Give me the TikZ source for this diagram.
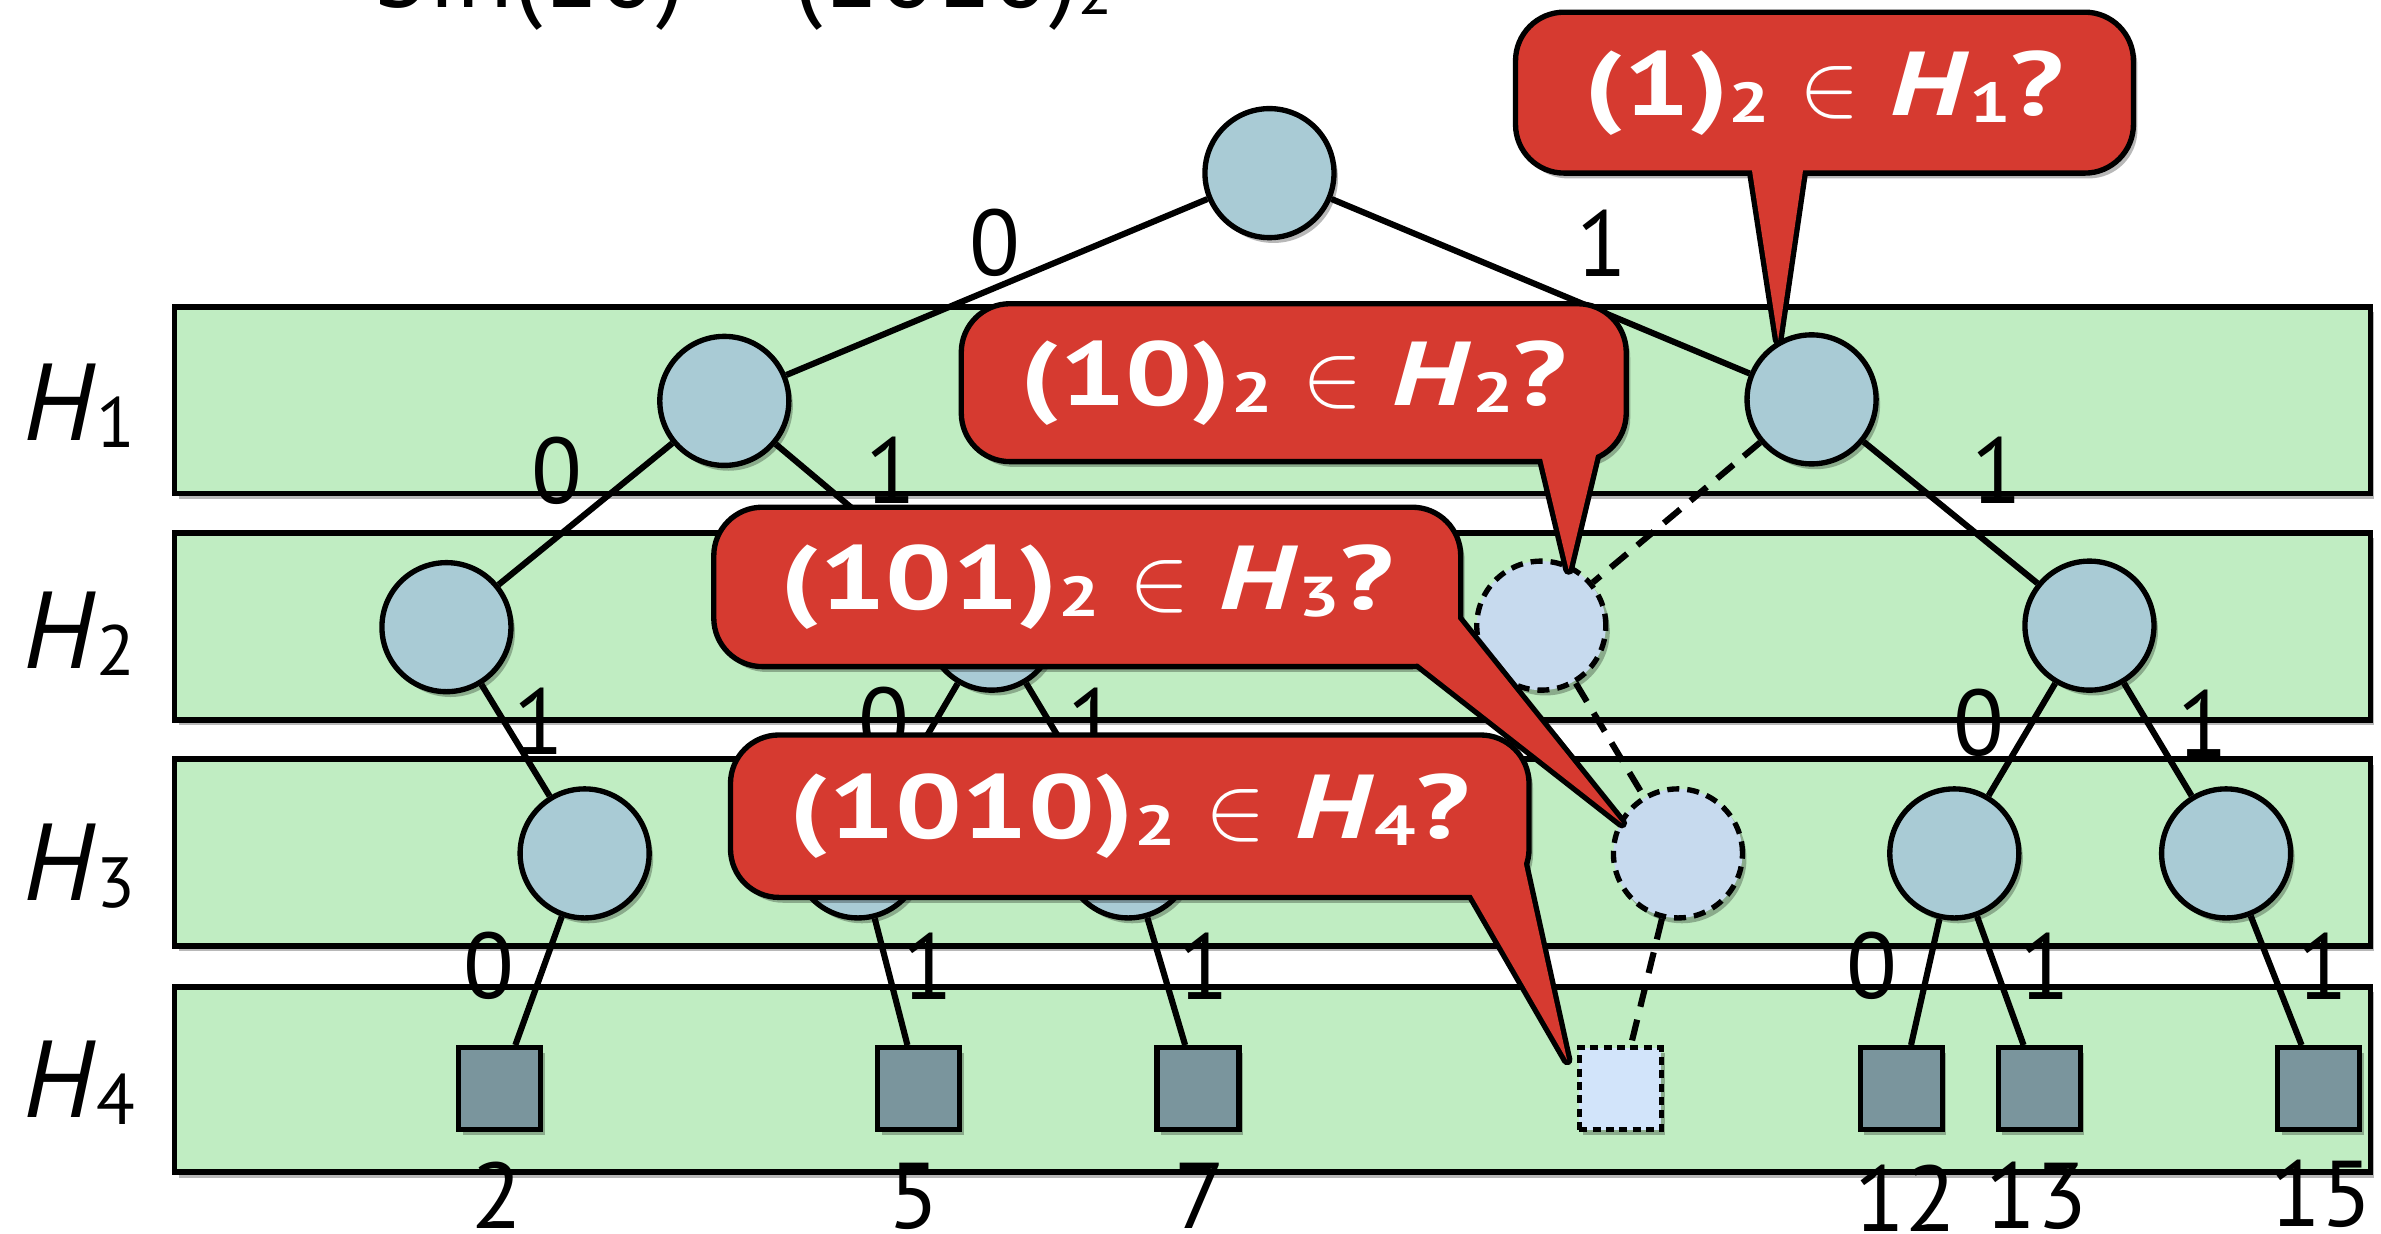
\RequirePackage{fix-cm}
\documentclass[tikz,border=0pt]{standalone}
\usepackage{fontspec}
\usepackage{graphicx}
\setmainfont{PT Sans}
\newfontfamily\askfont{PT Sans}[FakeStretch=1.3]
\usetikzlibrary{shadows}

\definecolor{bandgreen}{RGB}{192,237,194}
\definecolor{nodeblue}{RGB}{169,203,213}
\definecolor{ghostblue}{RGB}{199,218,238}
\definecolor{leafgray}{RGB}{122,149,157}
\definecolor{leafpale}{RGB}{210,228,250}
\definecolor{askred}{RGB}{214,58,48}

\newcommand{\lowsub}[2][0.6]{\raisebox{-2.7pt}{\scalebox{#1}{#2}}}

\tikzset{
  softshadow/.style={drop shadow={shadow xshift=1.5pt,shadow yshift=-2pt,opacity=0.28,fill=black}},
  band/.style={draw,line width=2.1pt,fill=bandgreen,softshadow},
  tnode/.style={circle,draw,line width=2pt,fill=nodeblue,minimum size=1.7cm,inner sep=0pt,softshadow},
  ghost/.style={tnode,fill=ghostblue,dash pattern=on 4.5pt off 3pt},
  leaf/.style={rectangle,draw,line width=2pt,fill=leafgray,minimum size=1.08cm,inner sep=0pt,softshadow},
  ghostleaf/.style={leaf,fill=leafpale,dash pattern=on 3pt off 2pt},
  tedge/.style={line width=2.3pt},
  probe/.style={line width=2.3pt,dash pattern=on 8pt off 5pt},
  bit/.style={inner sep=0pt,font=\fontsize{35}{40}\selectfont},
  num/.style={bit,anchor=base},
  lvl/.style={inner sep=0pt,anchor=base west,font=\fontsize{41}{46}\selectfont},
  callbox/.style={rectangle,rounded corners=0.64cm,draw,line width=2pt,fill=askred,text=white,
    inner sep=0pt,font=\askfont\bfseries\fontsize{34}{39}\selectfont,softshadow},
  tail/.style={draw,fill=askred,line width=4pt,line join=round,softshadow},
}

\begin{document}
\begin{tikzpicture}[x=0.02cm,y=-0.02cm]
\useasboundingbox (0,0) rectangle (1568,812);
\clip (0,0) rectangle (1568,812);
% title, cut by the top of the frame
\node[inner sep=0pt,anchor=base west,font=\fontsize{39}{44}\selectfont] (title) at (245,5) {bin(10) = (1010)\lowsub{2}};

% levels H1..H4
\draw[band] (115,202) rectangle (1561,325);
\draw[band] (115,351) rectangle (1561,474);
\draw[band] (115,500) rectangle (1561,623);
\draw[band] (115,650) rectangle (1561,772);
\node[lvl] (h1) at (15,290) {\textit{H}\lowsub[0.65]{1}};
\node[lvl] (h2) at (15,440) {\textit{H}\lowsub[0.65]{2}};
\node[lvl] (h3) at (15,593) {\textit{H}\lowsub[0.65]{3}};
\node[lvl] (h4) at (15,736) {\textit{H}\lowsub[0.65]{4}};

% trie
\node[tnode] (r) at (836,114) {};
\node[tnode] (a) at (477,264) {};
\node[tnode] (b) at (1193,263) {};
\node[tnode] (aa) at (294,413) {};
\node[tnode] (ab) at (653,412) {};
\node[ghost] (ba) at (1015,412) {};
\node[tnode] (bb) at (1376,412) {};
\node[tnode] (aab) at (385,562) {};
\node[tnode] (aba) at (565,562) {};
\node[tnode] (abb) at (743,562) {};
\node[ghost] (bab) at (1105,562) {};
\node[tnode] (bba) at (1287,562) {};
\node[tnode] (bbb) at (1466,562) {};
\node[leaf] (l2) at (329,717) {};
\node[leaf] (l5) at (605,717) {};
\node[leaf] (l7) at (789,717) {};
\node[ghostleaf] (l10) at (1067,717) {};
\node[leaf] (l12) at (1252,717) {};
\node[leaf] (l13) at (1343,717) {};
\node[leaf] (l15) at (1527,717) {};

\draw[tedge] (r) -- (a);
\draw[tedge] (r) -- (b);
\draw[tedge] (a) -- (aa);
\draw[tedge] (a) -- (ab);
\draw[probe] (b) -- (ba);
\draw[tedge] (b) -- (bb);
\draw[tedge] (aa) -- (aab);
\draw[tedge] (ab) -- (aba);
\draw[tedge] (ab) -- (abb);
\draw[probe] (ba) -- (bab);
\draw[tedge] (bb) -- (bba);
\draw[tedge] (bb) -- (bbb);
\draw[tedge] (aab) -- (l2);
\draw[tedge] (aba) -- (l5);
\draw[tedge] (abb) -- (l7);
\draw[probe] (bab) -- (l10);
\draw[tedge] (bba) -- (l12);
\draw[tedge] (bba) -- (l13);
\draw[tedge] (bbb) -- (l15);

% bits on the edges
\node[bit] (e1) at (655,160) {0};
\node[bit] (e2) at (1055,160) {1};
\node[bit] (e3) at (367,310) {0};
\node[bit] (e4) at (587,310) {1};
\node[bit] (e5) at (1315,310) {1};
\node[bit] (e6) at (355,475) {1};
\node[bit] (e7) at (582,475) {0};
\node[bit] (e8) at (720,475) {1};
\node[bit] (e9) at (1303,476) {0};
\node[bit] (e10) at (1451,476) {1};
\node[bit] (e11) at (322,636) {0};
\node[bit] (e12) at (611,636) {1};
\node[bit] (e13) at (793,636) {1};
\node[bit] (e14) at (1233,636) {0};
\node[bit] (e15) at (1347,636) {1};
\node[bit] (e16) at (1530,636) {1};

% keys
\node[num] (k2) at (327,809) {2};
\node[num] (k5) at (602,809) {5};
\node[num] (k7) at (790,809) {7};
\node[num] (k12) at (1255,811) {12};
\node[num] (k13) at (1341,809) {13};
\node[num] (k15) at (1529,808) {15};

% questions
\filldraw[tail] (958,570) -- (1032,698) -- (1000,553) -- cycle;
\node[callbox,minimum width=10.52cm,minimum height=2.14cm] (q4) at (744,537.5) {(1010)\lowsub[0.62]{2} $\in$ \textit{H}\lowsub[0.62]{4}?};
\fill[askred] (958,570) -- (1032,698) -- (1000,553) -- cycle;

\filldraw[tail] (916,423) -- (1068,542) -- (946,390) -- cycle;
\node[callbox,minimum width=9.84cm,minimum height=2.1cm] (q3) at (716,386.5) {(101)\lowsub[0.62]{2} $\in$ \textit{H}\lowsub[0.62]{3}?};
\fill[askred] (916,423) -- (1068,542) -- (946,390) -- cycle;

\filldraw[tail] (1012.6,289.8) -- (1033,375) -- (1053.4,289.8) -- cycle;
\node[callbox,minimum width=8.76cm,minimum height=2.08cm] (q2) at (852,252) {(10)\lowsub[0.62]{2} $\in$ \textit{H}\lowsub[0.62]{2}?};
\fill[askred] (1012.6,289.8) -- (1033,375) -- (1053.4,289.8) -- cycle;

\filldraw[tail] (1151.5,97.5) -- (1171,224) -- (1189.5,97.5) -- cycle;
\node[callbox,minimum width=8.14cm,minimum height=2.12cm] (q1) at (1201.5,61) {(1)\lowsub[0.62]{2} $\in$ \textit{H}\lowsub[0.62]{1}?};
\fill[askred] (1151.5,97.5) -- (1171,224) -- (1189.5,97.5) -- cycle;
\end{tikzpicture}
\end{document}
